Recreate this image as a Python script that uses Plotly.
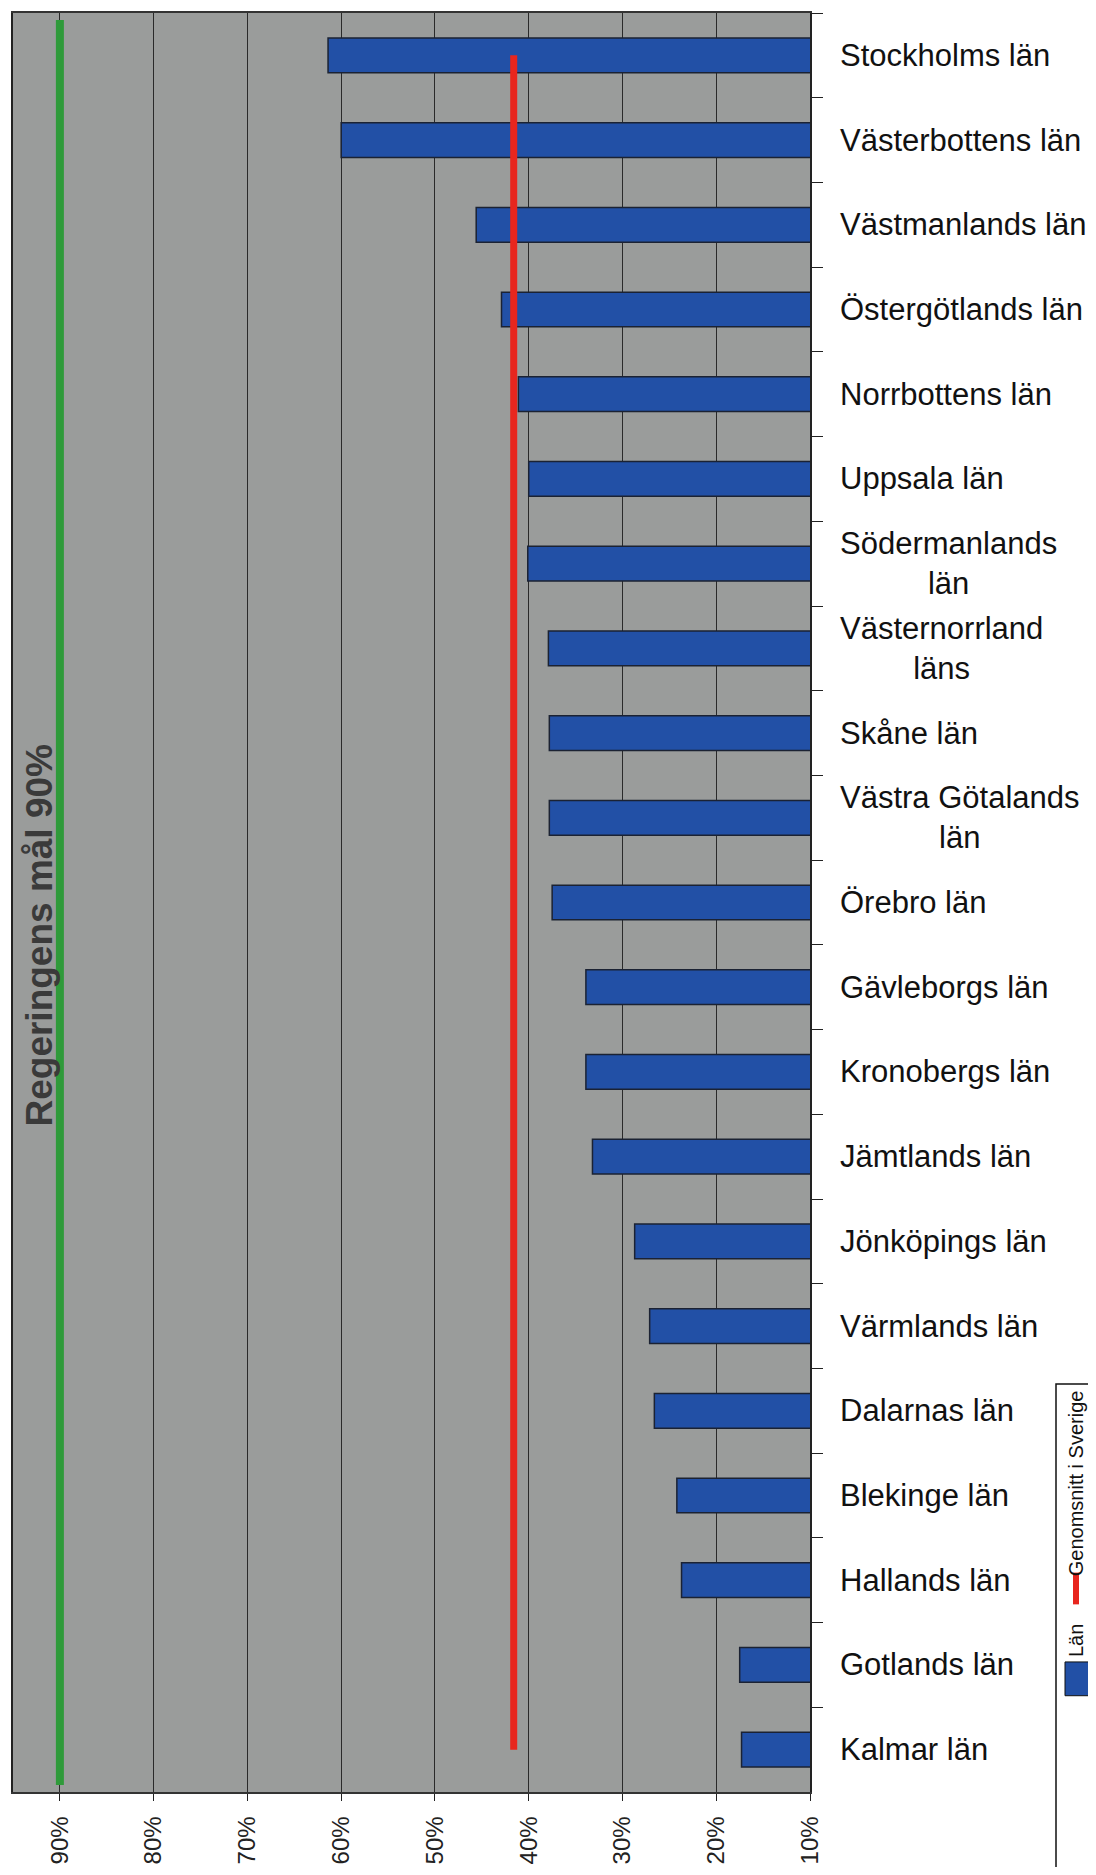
import plotly.graph_objects as go

# ---- data -------------------------------------------------------------
lan = ["Stockholms län", "Västerbottens län", "Västmanlands län", "Östergötlands län",
       "Norrbottens län", "Uppsala län", "Södermanlands län", "Västernorrland läns",
       "Skåne län", "Västra Götalands län", "Örebro län", "Gävleborgs län",
       "Kronobergs län", "Jämtlands län", "Jönköpings län", "Värmlands län",
       "Dalarnas län", "Blekinge län", "Hallands län", "Gotlands län", "Kalmar län"]
lan_labels = ["Stockholms län", "Västerbottens län", "Västmanlands län", "Östergötlands län",
              "Norrbottens län", "Uppsala län", "Södermanlands<br>län", "Västernorrland<br>läns",
              "Skåne län", "Västra Götalands<br>län", "Örebro län", "Gävleborgs län",
              "Kronobergs län", "Jämtlands län", "Jönköpings län", "Värmlands län",
              "Dalarnas län", "Blekinge län", "Hallands län", "Gotlands län", "Kalmar län"]
andel = [0.614, 0.600, 0.456, 0.429, 0.411, 0.400, 0.401, 0.379, 0.378, 0.378, 0.375,
         0.339, 0.339, 0.332, 0.287, 0.271, 0.266, 0.242, 0.237, 0.175, 0.173]
genomsnitt_sverige = 0.416
regeringens_mal = 0.90
x_ticks = [0.1, 0.2, 0.3, 0.4, 0.5, 0.6, 0.7, 0.8, 0.9]
x_tick_text = ["10%", "20%", "30%", "40%", "50%", "60%", "70%", "80%", "90%"]

# ---- layout geometry (page pixels; the page body has an 8px margin) -----
OFF = 8
W, H = 1096 - 2 * OFF, 1875 - 2 * OFF
L, R, T, B = 13, 810, 11, 1803          # plot area on the page


def px(p):
    return (p - L) / (R - L)


def py(p):
    return (B - p) / (B - T)


fig = go.Figure()
fig.add_trace(go.Bar(
    y=lan, x=andel, orientation="h", name="Län",
    marker=dict(color="#2250a6", line=dict(color="#1b2233", width=1.5)),
))
fig.add_trace(go.Scatter(
    y=lan, x=[genomsnitt_sverige] * len(lan), mode="lines", name="Genomsnitt i Sverige",
    line=dict(color="#e8261e", width=7),
))

shapes = [
    dict(type="line", xref="x", yref="paper", x0=regeringens_mal, x1=regeringens_mal,
         y0=0.004, y1=0.996, line=dict(color="#2f9a3a", width=8), layer="above"),
    # legend box (rotated legend, cut by page edge)
    dict(type="rect", xref="paper", yref="paper", x0=px(1056), x1=px(1120),
         y0=py(1392), y1=py(1900), line=dict(color="#111", width=1.5), fillcolor="white"),
    dict(type="line", xref="paper", yref="paper", x0=px(1076), x1=px(1076),
         y0=py(1582), y1=py(1614), line=dict(color="#e8261e", width=6)),
    dict(type="rect", xref="paper", yref="paper", x0=px(1065), x1=px(1090),
         y0=py(1672), y1=py(1706), line=dict(color="#111", width=1), fillcolor="#2250a6"),
]

annotations = []
for name, lab in zip(lan, lan_labels):
    annotations.append(dict(
        x=px(838), xref="paper", y=name, yref="y", text=lab, showarrow=False,
        xanchor="left", yanchor="middle", align="center",
        font=dict(family="Liberation Sans, Arial, sans-serif", size=31, color="#111"),
    ))
annotations.append(dict(
    x=0.922, xref="x", y=py(940), yref="paper", text="<b>Regeringens mål 90%</b>",
    showarrow=False, textangle=-90, xanchor="center", yanchor="middle",
    font=dict(family="Liberation Sans, Arial, sans-serif", size=37, color="#3a3a3a"),
))
annotations.append(dict(
    x=px(1076), xref="paper", y=py(1492), yref="paper", text="Genomsnitt i Sverige",
    showarrow=False, textangle=-90, xanchor="center", yanchor="middle",
    font=dict(family="Liberation Sans Narrow, Liberation Sans, Arial, sans-serif", size=20, color="#111"),
))
annotations.append(dict(
    x=px(1076), xref="paper", y=py(1651), yref="paper", text="Län",
    showarrow=False, textangle=-90, xanchor="center", yanchor="middle",
    font=dict(family="Liberation Sans Narrow, Liberation Sans, Arial, sans-serif", size=20, color="#111"),
))

fig.update_layout(
    width=W, height=H,
    margin=dict(l=L - OFF, r=W - (R - OFF), t=T - OFF, b=H - (B - OFF), pad=0),
    paper_bgcolor="white", plot_bgcolor="#9a9c9b",
    showlegend=False, bargap=0.59,
    shapes=shapes, annotations=annotations,
    xaxis=dict(
        range=[0.95, 0.10], tickvals=x_ticks, ticktext=x_tick_text, tickangle=-90,
        ticks="outside", ticklen=7, tickcolor="#222", ticklabelstandoff=6,
        showgrid=True, gridcolor="#2a2a2a", gridwidth=1, zeroline=False,
        showline=True, linecolor="#333", linewidth=1.5, mirror=True,
        tickfont=dict(family="Liberation Sans, Arial, sans-serif", size=24, color="#222"),
    ),
    yaxis=dict(
        range=[len(lan) - 0.5, -0.5], side="right", showticklabels=False,
        ticks="outside", tickson="boundaries", ticklen=11, tickcolor="#222",
        showgrid=False, zeroline=False,
        showline=True, linecolor="#222", linewidth=1.5, mirror=True,
    ),
)

fig.write_html("out.html")
